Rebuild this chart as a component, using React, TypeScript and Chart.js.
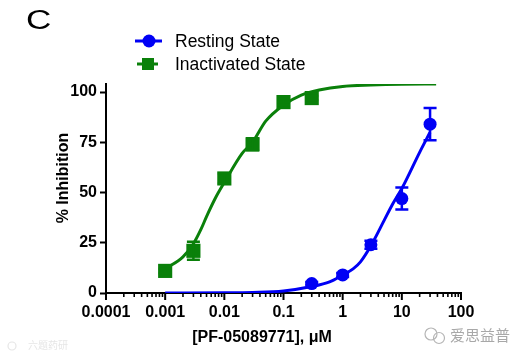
import React, { useEffect, useRef } from "react";
import { Chart, registerables } from "chart.js";

Chart.register(...registerables);

const FONT = "'Liberation Sans', Arial, Helvetica, sans-serif";

// ---- axis ticks ----
const decadeTicks = [0.0001, 0.001, 0.01, 0.1, 1, 10, 100];
const decadeLabels = ["0.0001", "0.001", "0.01", "0.1", "1", "10", "100"];
const minorMultipliers = [2, 3, 4, 5, 6, 7, 8, 9];
const yTickValues = [0, 25, 50, 75, 100];

// ---- Resting State (blue) ----
const restingConc = [0.3, 1, 3, 10, 30];
const restingMean = [4.7, 9, 24, 47, 84];
const restingErr = [0.8, 1, 2, 5.5, 8];
const restingFitX = [0.001, 0.01, 0.03, 0.1, 0.3, 0.6, 1, 1.5, 2, 3, 5, 7, 10, 20, 30];
const restingFitY = [0, 0.1, 0.3, 1, 3.2, 5.5, 9, 12, 15.5, 23.5, 36, 44.3, 52, 70, 80];

// ---- Inactivated State (green) ----
const inactConc = [0.001, 0.003, 0.01, 0.03, 0.1, 0.3];
const inactMean = [11, 21, 57, 74, 95, 97];
const inactErr = [1, 4.5, 2.5, 3, 1.5, 1];
const inactFitX = [0.001, 0.002, 0.003, 0.004, 0.005, 0.007, 0.01, 0.02, 0.03, 0.05, 0.1, 0.2, 0.4, 1, 3, 10, 38];
const inactFitY = [12, 18, 24.5, 31.5, 38, 47, 55, 69.5, 75, 85.5, 93.5, 98.5, 101, 102.8, 103.5, 103.9, 104];

const BLUE = "#0000f5";
const GREEN = "#0a800a";

const errorBars: { ds: number; err: number[]; color: string }[] = [
  { ds: 2, err: restingErr, color: BLUE },
  { ds: 3, err: inactErr, color: GREEN },
];

const xTickValues: number[] = [];
decadeTicks.forEach((d, i) => {
  xTickValues.push(d);
  if (i < decadeTicks.length - 1) minorMultipliers.forEach((m) => xTickValues.push(m * d));
});

export default function App() {
  const canvasRef = useRef<HTMLCanvasElement | null>(null);

  useEffect(() => {
    document.body.style.margin = "0";
    const canvas = canvasRef.current;
    if (!canvas) return;

    const errorBarPlugin = {
      id: "errorBars",
      afterDatasetsDraw(chart: any) {
        const ctx = chart.ctx;
        const ys = chart.scales.y;
        ctx.save();
        errorBars.forEach(({ ds, err, color }) => {
          const meta = chart.getDatasetMeta(ds);
          const data = chart.data.datasets[ds].data as any[];
          meta.data.forEach((pt: any, i: number) => {
            const e = err[i];
            const top = ys.getPixelForValue(data[i].y + e);
            const bot = ys.getPixelForValue(data[i].y - e);
            ctx.strokeStyle = color;
            ctx.lineWidth = 2.5;
            ctx.beginPath();
            ctx.moveTo(pt.x, top);
            ctx.lineTo(pt.x, bot);
            ctx.moveTo(pt.x - 6.5, top);
            ctx.lineTo(pt.x + 6.5, top);
            ctx.moveTo(pt.x - 6.5, bot);
            ctx.lineTo(pt.x + 6.5, bot);
            ctx.stroke();
          });
        });
        ctx.restore();
      },
    };

    const decorPlugin = {
      id: "decor",
      afterDraw(chart: any) {
        const ctx = chart.ctx;
        const xs = chart.scales.x;
        const area = chart.chartArea;
        ctx.save();
        // x tick marks (major / minor)
        ctx.strokeStyle = "#000";
        xs.ticks.forEach((t: any) => {
          const px = xs.getPixelForValue(t.value);
          const major = decadeTicks.includes(t.value);
          ctx.lineWidth = major ? 2 : 1.6;
          ctx.beginPath();
          ctx.moveTo(px, area.bottom);
          ctx.lineTo(px, area.bottom + (major ? 7 : 4));
          ctx.stroke();
        });

        // axis titles
        ctx.fillStyle = "#000";
        ctx.font = `bold 16px ${FONT}`;
        ctx.textAlign = "center";
        ctx.textBaseline = "middle";
        ctx.fillText("[PF-05089771], \u03bcM", 262, 338);
        ctx.save();
        ctx.translate(64, 178);
        ctx.rotate(-Math.PI / 2);
        ctx.fillText("% Inhibition", 0, 0);
        ctx.restore();

        // panel letter
        ctx.save();
        ctx.textAlign = "left";
        ctx.textBaseline = "alphabetic";
        ctx.font = `27px ${FONT}`;
        ctx.translate(26, 29);
        ctx.scale(1.3, 1);
        ctx.fillText("C", 0, 0);
        ctx.restore();

        // legend
        ctx.textAlign = "left";
        ctx.lineWidth = 3;
        ctx.strokeStyle = BLUE;
        ctx.beginPath();
        ctx.moveTo(135, 41);
        ctx.lineTo(162, 41);
        ctx.stroke();
        ctx.fillStyle = BLUE;
        ctx.beginPath();
        ctx.arc(149, 41, 6.5, 0, Math.PI * 2);
        ctx.fill();

        ctx.strokeStyle = GREEN;
        ctx.beginPath();
        ctx.moveTo(137, 64);
        ctx.lineTo(158, 64);
        ctx.stroke();
        ctx.fillStyle = GREEN;
        ctx.fillRect(142, 58, 12, 12);

        ctx.fillStyle = "#000";
        ctx.font = `17.5px ${FONT}`;
        ctx.textBaseline = "middle";
        ctx.fillText("Resting State", 175, 42);
        ctx.fillText("Inactivated State", 175, 65);

        // watermarks
        ctx.strokeStyle = "#b5b5b5";
        ctx.lineWidth = 1.2;
        ctx.beginPath();
        ctx.arc(431, 334, 6, 0, Math.PI * 2);
        ctx.stroke();
        ctx.beginPath();
        ctx.arc(439, 338, 5.5, 0, Math.PI * 2);
        ctx.stroke();
        ctx.fillStyle = "#a8a8a8";
        ctx.font = `15px 'Noto Sans CJK SC', sans-serif`;
        ctx.fillText("\u7231\u601d\u76ca\u666e", 450, 335);

        ctx.fillStyle = "#e6e6e6";
        ctx.font = `10px 'Noto Sans CJK SC', sans-serif`;
        ctx.fillText("\u516d\u9898\u836f\u7814", 28, 345);
        ctx.strokeStyle = "#e6e6e6";
        ctx.beginPath();
        ctx.arc(12, 346, 4, 0, Math.PI * 2);
        ctx.stroke();
        ctx.restore();
      },
    };

    const chart = new Chart(canvas, {
      type: "line",
      data: {
        datasets: [
          {
            label: "Resting fit",
            data: restingFitX.map((x, i) => ({ x, y: restingFitY[i] })),
            borderColor: BLUE,
            borderWidth: 3,
            pointRadius: 0,
            cubicInterpolationMode: "monotone",
            fill: false,
          },
          {
            label: "Inactivated fit",
            data: inactFitX.map((x, i) => ({ x, y: inactFitY[i] })),
            borderColor: GREEN,
            borderWidth: 3,
            pointRadius: 0,
            cubicInterpolationMode: "monotone",
            fill: false,
          },
          {
            label: "Resting State",
            data: restingConc.map((x, i) => ({ x, y: restingMean[i] })),
            showLine: false,
            pointStyle: "circle",
            pointRadius: 6.5,
            backgroundColor: BLUE,
            borderColor: BLUE,
            borderWidth: 0,
          },
          {
            label: "Inactivated State",
            data: inactConc.map((x, i) => ({ x, y: inactMean[i] })),
            showLine: false,
            pointStyle: "rect",
            pointRadius: 10,
            backgroundColor: GREEN,
            borderColor: GREEN,
            borderWidth: 0,
          },
        ],
      },
      options: {
        animation: false,
        responsive: false,
        maintainAspectRatio: false,
        layout: { padding: { left: 0, top: 84, right: 59, bottom: 0 } },
        plugins: { legend: { display: false }, tooltip: { enabled: false }, title: { display: false } },
        elements: { line: { tension: 0 } },
        scales: {
          x: {
            type: "logarithmic",
            min: 0.0001,
            max: 100,
            afterBuildTicks: (scale: any) => {
              scale.ticks = xTickValues.map((v) => ({ value: v, major: decadeTicks.includes(v) }));
            },
            afterFit: (scale: any) => {
              scale.height = 65;
            },
            grid: { display: false, drawTicks: false, drawOnChartArea: false },
            border: { display: true, color: "#000", width: 2 },
            ticks: {
              autoSkip: false,
              maxRotation: 0,
              minRotation: 0,
              padding: 10,
              color: "#000",
              font: { family: FONT, size: 16, weight: "bold" },
              callback: (value: any) => {
                const idx = decadeTicks.indexOf(Number(value));
                return idx >= 0 ? decadeLabels[idx] : "";
              },
            },
          },
          y: {
            type: "linear",
            min: 0,
            max: 104,
            afterBuildTicks: (scale: any) => {
              scale.ticks = yTickValues.map((v) => ({ value: v }));
            },
            afterFit: (scale: any) => {
              scale.width = 106;
            },
            grid: {
              display: true,
              drawOnChartArea: false,
              drawTicks: true,
              tickLength: 6,
              tickWidth: 2,
              tickColor: "#000",
            },
            border: { display: true, color: "#000", width: 2 },
            ticks: {
              padding: 3,
              color: "#000",
              font: { family: FONT, size: 16, weight: "bold" },
              callback: (value: any) => String(value),
            },
          },
        },
      },
      plugins: [errorBarPlugin, decorPlugin],
    } as any);

    return () => chart.destroy();
  }, []);

  return (
    <div style={{ width: 520, height: 358, position: "relative", background: "#fff" }}>
      <canvas ref={canvasRef} width={520} height={358} style={{ display: "block", width: 520, height: 358 }} />
    </div>
  );
}
